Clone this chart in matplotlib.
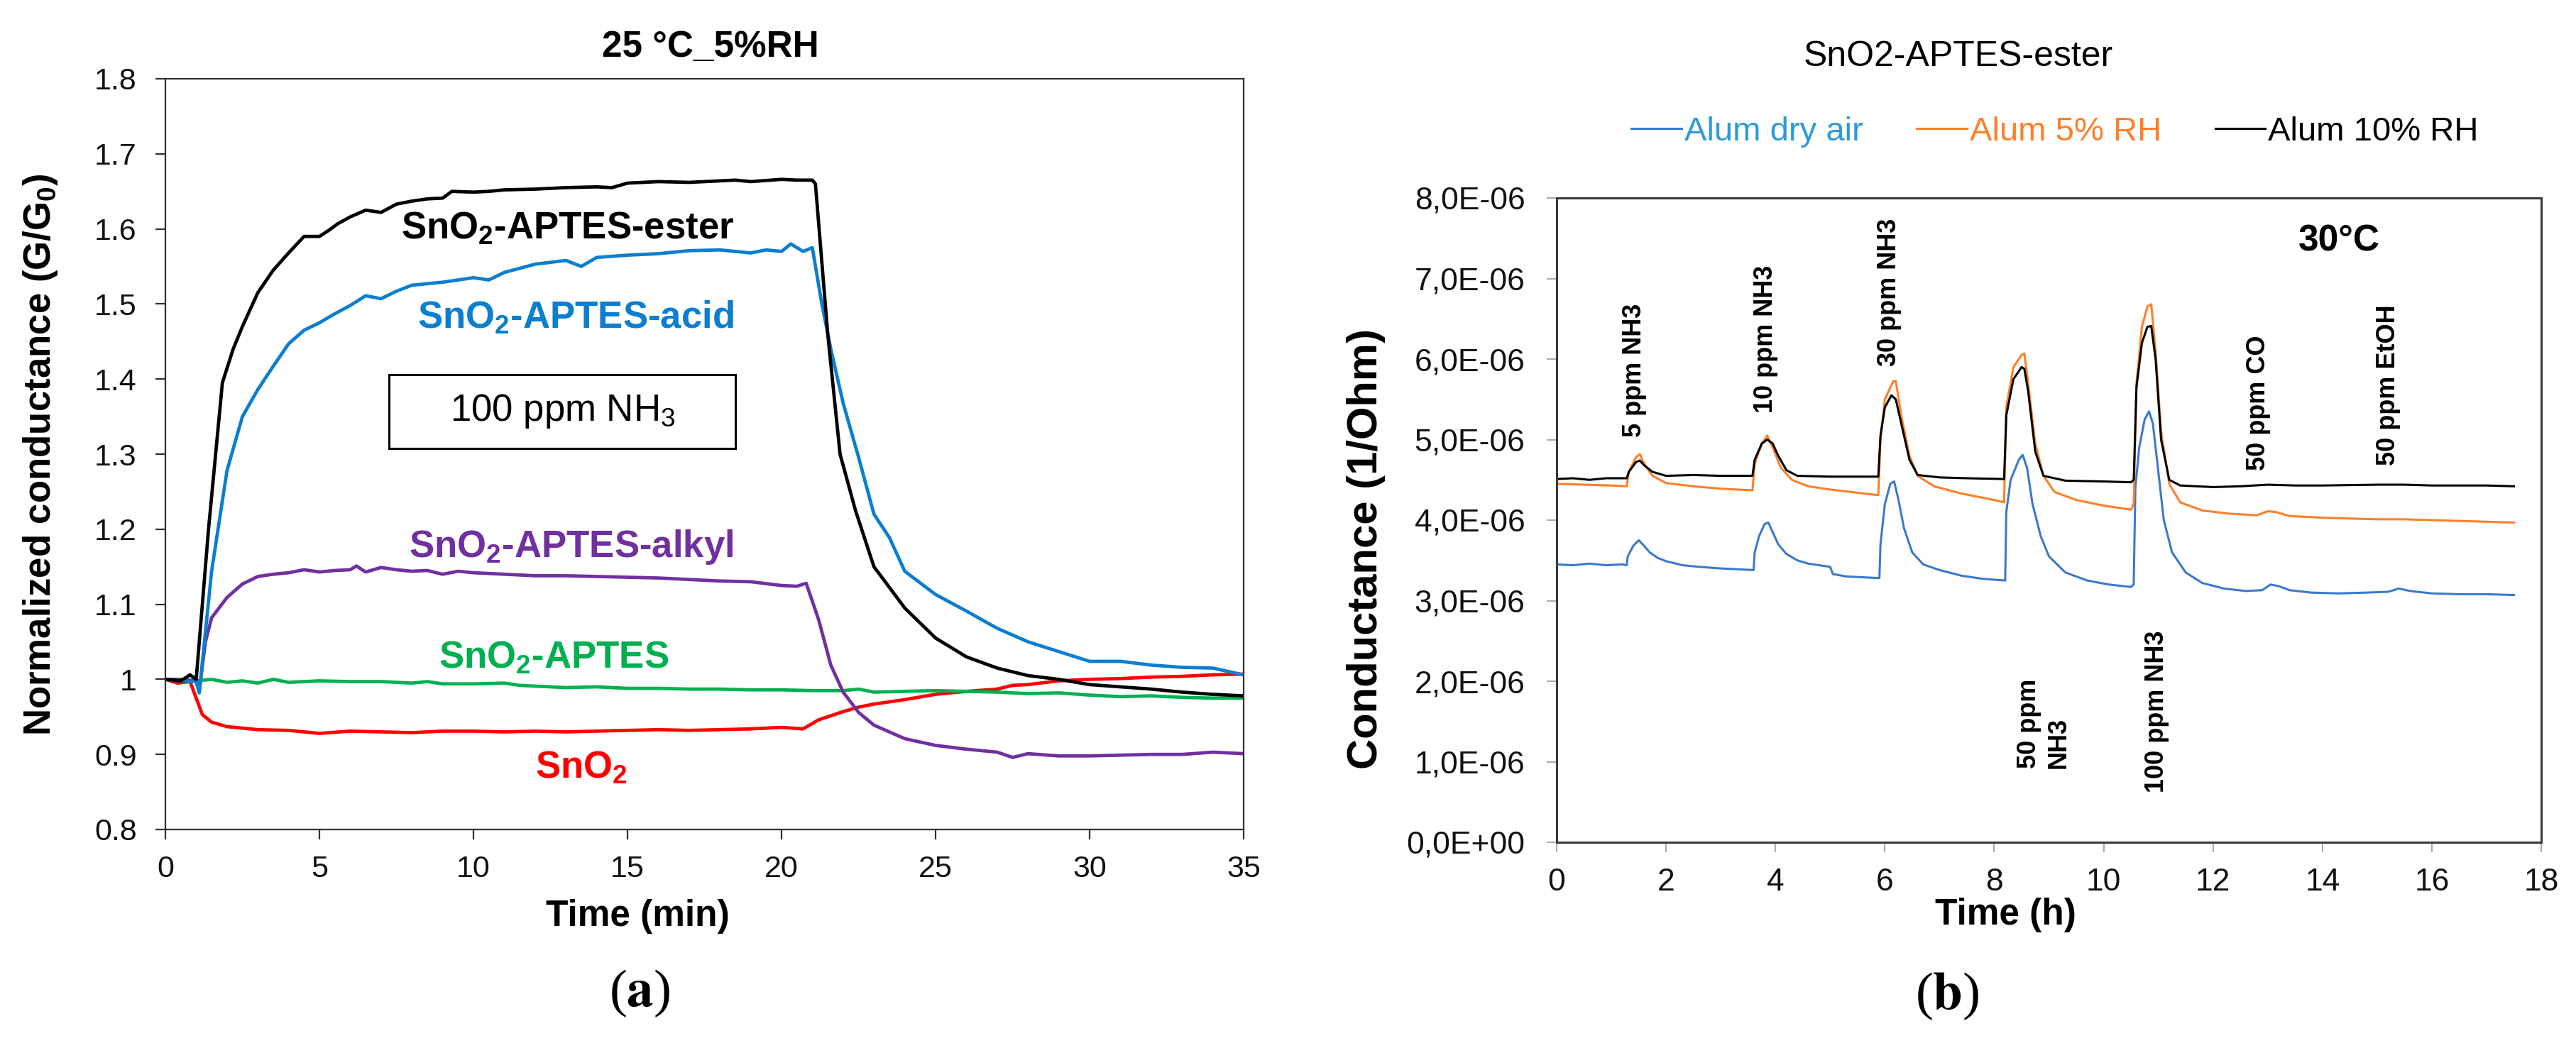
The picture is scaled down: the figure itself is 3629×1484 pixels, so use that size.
import matplotlib
matplotlib.use('Agg')
import matplotlib.pyplot as plt
from matplotlib.patches import Rectangle
from matplotlib.lines import Line2D
from matplotlib import font_manager

# ---------------- data: panel (a) ----------------
ester_t = [0, 0.5, 0.8, 1.0, 1.4, 1.85, 2.2, 2.5, 3, 3.5, 4, 4.5, 5, 5.3, 5.6, 6, 6.5, 7, 7.5, 8, 8.5, 9,
           9.3, 10, 10.5, 11, 12, 13, 14, 14.5, 15, 16, 17, 18, 18.5, 19, 20, 20.5, 21, 21.1, 21.5, 21.9,
           22.4, 23, 24, 25, 26, 27, 28, 29, 30, 31, 32, 33, 34, 35]
ester_g = [1.0, 0.998, 1.006, 1.0, 1.2, 1.395, 1.44, 1.47, 1.515, 1.545, 1.568, 1.59, 1.59, 1.598, 1.607,
           1.616, 1.625, 1.622, 1.633, 1.637, 1.64, 1.641, 1.65, 1.649, 1.65, 1.652, 1.653, 1.655, 1.656,
           1.655, 1.661, 1.663, 1.662, 1.664, 1.665, 1.663, 1.666, 1.665, 1.665, 1.66, 1.46, 1.30, 1.225,
           1.15, 1.095, 1.055, 1.03, 1.015, 1.005, 1.0, 0.993, 0.99, 0.987, 0.983, 0.98, 0.978]

acid_t = [0, 0.5, 1.0, 1.1, 1.5, 2, 2.5, 3, 3.5, 4, 4.5, 5, 5.5, 6, 6.5, 7, 7.5, 8, 9, 10, 10.5, 11, 12,
          13, 13.5, 14, 15, 16, 17, 18, 19, 19.5, 20, 20.3, 20.7, 21, 21.3, 21.6, 22, 22.5, 23, 23.5, 24,
          25, 26, 27, 28, 29, 30, 31, 32, 33, 34, 35]
acid_g = [1.0, 0.998, 0.997, 0.982, 1.144, 1.278, 1.35, 1.386, 1.417, 1.447, 1.465, 1.475, 1.487, 1.498,
          1.511, 1.507, 1.517, 1.525, 1.529, 1.535, 1.532, 1.542, 1.553, 1.558, 1.55, 1.562, 1.565, 1.567,
          1.571, 1.572, 1.568, 1.572, 1.57, 1.58, 1.57, 1.575, 1.502, 1.44, 1.368, 1.296, 1.22, 1.189,
          1.144, 1.113, 1.091, 1.068, 1.05, 1.037, 1.024, 1.024, 1.019, 1.016, 1.015, 1.006]

alkyl_t = [0, 0.5, 1.0, 1.1, 1.3, 1.5, 2, 2.5, 3, 3.5, 4, 4.5, 5, 5.5, 6, 6.2, 6.5, 7, 7.5, 8, 8.5, 9,
           9.5, 10, 11, 12, 13, 14, 15, 16, 17, 18, 19, 20, 20.5, 20.8, 21.2, 21.6, 22, 22.5, 23, 24, 25,
           26, 27, 27.5, 28, 29, 30, 31, 32, 33, 34, 35]
alkyl_g = [1.0, 1.0, 0.998, 0.985, 1.05, 1.082, 1.109, 1.127, 1.137, 1.14, 1.142, 1.146, 1.143, 1.145,
           1.146, 1.151, 1.143, 1.149, 1.146, 1.144, 1.145, 1.14, 1.144, 1.142, 1.14, 1.138, 1.138, 1.137,
           1.136, 1.135, 1.133, 1.131, 1.13, 1.125, 1.124, 1.128, 1.08, 1.019, 0.983, 0.956, 0.939, 0.921,
           0.912, 0.907, 0.903, 0.896, 0.901, 0.898, 0.898, 0.899, 0.9, 0.9, 0.903, 0.901]

aptes_t = [0, 1, 1.5, 2, 2.5, 3, 3.5, 4, 4.5, 5, 6, 7, 8, 8.5, 9, 10, 11, 11.5, 12, 13, 14, 15, 16, 17,
           18, 19, 20, 21, 22, 22.5, 23, 24, 25, 26, 27, 28, 29, 30, 31, 32, 33, 34, 35]
aptes_g = [1.0, 0.998, 1.0, 0.996, 0.998, 0.995, 1.0, 0.996, 0.997, 0.998, 0.997, 0.997, 0.995, 0.997,
           0.994, 0.994, 0.995, 0.992, 0.991, 0.989, 0.99, 0.988, 0.988, 0.987, 0.987, 0.986, 0.986,
           0.985, 0.985, 0.987, 0.983, 0.984, 0.985, 0.984, 0.983, 0.981, 0.982, 0.979, 0.977, 0.978,
           0.976, 0.975, 0.975]

sno2_t = [0, 0.4, 0.8, 1.0, 1.2, 1.5, 2, 3, 4, 4.5, 5, 6, 7, 8, 9, 10, 11, 12, 13, 14, 15, 16, 17, 18,
          19, 20, 20.7, 21.2, 22, 22.5, 23, 24, 25, 26, 27, 27.5, 28, 29, 30, 31, 32, 33, 34, 35]
sno2_g = [1.0, 0.995, 0.997, 0.975, 0.953, 0.943, 0.937, 0.933, 0.932, 0.93, 0.928, 0.931, 0.93, 0.929,
          0.931, 0.931, 0.93, 0.931, 0.93, 0.931, 0.932, 0.933, 0.932, 0.933, 0.934, 0.936, 0.934, 0.946,
          0.957, 0.963, 0.967, 0.973, 0.98, 0.984, 0.987, 0.992, 0.993, 0.998, 1.0, 1.001, 1.003, 1.004,
          1.006, 1.007]

a_xticks = [0, 5, 10, 15, 20, 25, 30, 35]
a_yticks = [0.8, 0.9, 1.0, 1.1, 1.2, 1.3, 1.4, 1.5, 1.6, 1.7, 1.8]
a_yticklabels = ['0.8', '0.9', '1', '1.1', '1.2', '1.3', '1.4', '1.5', '1.6', '1.7', '1.8']

# ---------------- data: panel (b)  (conductance in 1e-6 1/Ohm) ----------------
dry_t = [0, 0.3, 0.6, 0.9, 1.2, 1.28, 1.3, 1.4, 1.5, 1.6, 1.7, 1.85, 2.0, 2.3, 2.6, 3.0, 3.3, 3.6, 3.62,
         3.7, 3.8, 3.87, 3.95, 4.05, 4.2, 4.4, 4.6, 4.8, 5.0, 5.05, 5.3, 5.6, 5.9, 5.92, 6.0, 6.1, 6.17,
         6.25, 6.35, 6.5, 6.7, 7.0, 7.4, 7.8, 8.2, 8.22, 8.3, 8.45, 8.52, 8.6, 8.7, 8.85, 9.0, 9.3, 9.7,
         10.1, 10.5, 10.55, 10.58, 10.65, 10.75, 10.83, 10.9, 11.0, 11.1, 11.25, 11.5, 11.8, 12.2, 12.6,
         12.9, 13.05, 13.2, 13.4, 13.8, 14.3, 14.8, 15.2, 15.4, 15.6, 16.0, 16.5, 17.0, 17.5]
dry_g = [3.45, 3.44, 3.46, 3.44, 3.45, 3.44, 3.55, 3.68, 3.75, 3.68, 3.6, 3.53, 3.49, 3.44, 3.42, 3.40,
         3.39, 3.38, 3.6, 3.8, 3.95, 3.97, 3.85, 3.7, 3.58, 3.5, 3.46, 3.44, 3.42, 3.33, 3.3, 3.29, 3.28,
         3.7, 4.2, 4.45, 4.48, 4.25, 3.9, 3.6, 3.45, 3.38, 3.31, 3.27, 3.25, 4.1, 4.5, 4.75, 4.81, 4.65,
         4.2, 3.8, 3.55, 3.35, 3.25, 3.2, 3.17, 3.2, 4.4, 4.9, 5.25, 5.35, 5.2, 4.6, 4.0, 3.6, 3.35, 3.22,
         3.15, 3.12, 3.13, 3.2, 3.18, 3.13, 3.1, 3.09, 3.1, 3.11, 3.15, 3.12, 3.09, 3.08, 3.08, 3.07]

rh5_t = [0, 0.5, 1.0, 1.28, 1.32, 1.45, 1.52, 1.6, 1.75, 2.0, 2.5, 3.0, 3.58, 3.62, 3.75, 3.85, 3.95, 4.1,
         4.3, 4.6, 5.0, 5.5, 5.88, 5.92, 6.0, 6.15, 6.2, 6.3, 6.45, 6.6, 6.9, 7.4, 8.0, 8.18, 8.22, 8.35,
         8.5, 8.55, 8.62, 8.75, 8.9, 9.1, 9.5, 10.0, 10.5, 10.55, 10.6, 10.7, 10.8, 10.87, 10.95, 11.05,
         11.2, 11.4, 11.8, 12.3, 12.8, 13.0, 13.15, 13.4, 14.0, 14.5, 15.0, 15.5, 16.0, 16.5, 17.0, 17.5]
rh5_g = [4.45, 4.44, 4.43, 4.42, 4.6, 4.78, 4.82, 4.7, 4.55, 4.46, 4.42, 4.39, 4.37, 4.7, 4.95, 5.05,
         4.9, 4.65, 4.5, 4.42, 4.38, 4.34, 4.31, 5.0, 5.5, 5.72, 5.73, 5.3, 4.8, 4.55, 4.42, 4.33, 4.25,
         4.22, 5.4, 5.9, 6.05, 6.07, 5.7, 4.95, 4.55, 4.35, 4.25, 4.18, 4.13, 4.2, 5.7, 6.4, 6.65, 6.68,
         6.1, 5.1, 4.45, 4.22, 4.12, 4.08, 4.06, 4.11, 4.1, 4.05, 4.03, 4.02, 4.01, 4.01, 4.0, 3.99, 3.98,
         3.97]

rh10_t = [0, 0.3, 0.6, 0.9, 1.28, 1.32, 1.45, 1.52, 1.6, 1.75, 2.0, 2.5, 3.0, 3.58, 3.62, 3.75, 3.85,
          3.95, 4.05, 4.2, 4.4, 5.0, 5.5, 5.88, 5.92, 6.0, 6.12, 6.2, 6.3, 6.45, 6.6, 7.0, 7.5, 8.18, 8.22,
          8.35, 8.5, 8.55, 8.62, 8.75, 8.9, 9.3, 10.0, 10.5, 10.55, 10.6, 10.7, 10.8, 10.87, 10.95, 11.05,
          11.2, 11.4, 12.0, 12.5, 13.0, 13.5, 14.0, 15.0, 15.5, 16.0, 17.0, 17.5]
rh10_g = [4.51, 4.52, 4.50, 4.52, 4.52, 4.6, 4.72, 4.74, 4.68, 4.6, 4.55, 4.56, 4.55, 4.55, 4.75, 4.95,
          5.0, 4.95, 4.8, 4.62, 4.55, 4.54, 4.54, 4.54, 5.05, 5.4, 5.55, 5.5, 5.2, 4.75, 4.56, 4.53, 4.52,
          4.51, 5.3, 5.75, 5.9, 5.88, 5.6, 4.85, 4.55, 4.49, 4.48, 4.47, 4.5, 5.65, 6.2, 6.4, 6.41, 6.0,
          5.0, 4.5, 4.43, 4.41, 4.42, 4.44, 4.43, 4.43, 4.44, 4.44, 4.43, 4.43, 4.42]

b_xticks = [0, 2, 4, 6, 8, 10, 12, 14, 16, 18]
b_yticks = [0, 1e-6, 2e-6, 3e-6, 4e-6, 5e-6, 6e-6, 7e-6, 8e-6]
b_yticklabels = ['0,0E+00', '1,0E-06', '2,0E-06', '3,0E-06', '4,0E-06', '5,0E-06', '6,0E-06',
                 '7,0E-06', '8,0E-06']

# gas-pulse annotations: (label, x [h], y [1/Ohm], vertical anchor)
b_notes = [('5 ppm NH3', 1.42, 5.03e-6, 'bottom'),
           ('10 ppm NH3', 3.82, 5.33e-6, 'bottom'),
           ('30 ppm NH3', 6.08, 5.91e-6, 'bottom'),
           ('50 ppm\nNH3', 8.91, 0.92e-6, 'bottom'),
           ('100 ppm NH3', 10.97, 0.62e-6, 'bottom'),
           ('50 ppm CO', 12.83, 4.62e-6, 'bottom'),
           ('50 ppm EtOH', 15.2, 4.68e-6, 'bottom')]

# ---------------- styling ----------------
names = {f.name for f in font_manager.fontManager.ttflist}
SANS = 'Liberation Sans'
NARROW = 'Liberation Sans Narrow' if 'Liberation Sans Narrow' in names else 'Liberation Sans'

plt.rcParams['font.family'] = [SANS, 'DejaVu Sans']
plt.rcParams['mathtext.fontset'] = 'custom'
plt.rcParams['mathtext.rm'] = SANS
plt.rcParams['mathtext.it'] = SANS + ':italic'
plt.rcParams['mathtext.bf'] = SANS + ':bold'

C_ESTER, C_ACID, C_ALKYL, C_APTES, C_SNO2 = '#000000', '#0A7ECF', '#7030A0', '#00B050', '#FF0000'
C_DRY_LINE, C_DRY_TXT, C_RH5, C_RH10 = '#3B79CC', '#2E9AD8', '#FF7F2A', '#000000'

W, H = 3630, 1484
fig = plt.figure(figsize=(W / 100, H / 100), dpi=100)

# ================= panel (a) =================
ax1 = fig.add_axes([233 / W, 1 - 1169 / H, (1752 - 233) / W, (1169 - 111) / H])
lw_a = 3.4
ax1.plot(sno2_t, sno2_g, color=C_SNO2, lw=lw_a)
ax1.plot(aptes_t, aptes_g, color=C_APTES, lw=lw_a)
ax1.plot(alkyl_t, alkyl_g, color=C_ALKYL, lw=lw_a)
ax1.plot(acid_t, acid_g, color=C_ACID, lw=lw_a)
ax1.plot(ester_t, ester_g, color=C_ESTER, lw=lw_a)
ax1.set_xlim(0, 35)
ax1.set_ylim(0.8, 1.8)
ax1.set_xticks(a_xticks)
ax1.set_yticks(a_yticks)
ax1.set_yticklabels(a_yticklabels)
for sp in ax1.spines.values():
    sp.set_linewidth(1.6)
    sp.set_color('#303030')
ax1.tick_params(axis='both', direction='out', length=10, width=1.6, color='#303030',
                labelsize=31, labelcolor='#111111')
ax1.tick_params(axis='y', pad=19)
ax1.tick_params(axis='x', pad=16)

fs_lab = 38
ax1.text(18.45, 1.60, r'SnO$_\mathbf{2}$-APTES-ester', color=C_ESTER, fontsize=fs_lab,
         fontweight='bold', ha='right', va='center')
ax1.text(18.45, 1.482, r'SnO$_\mathbf{2}$-APTES-acid', color=C_ACID, fontsize=fs_lab,
         fontweight='bold', ha='right', va='center')
ax1.text(18.45, 1.176, r'SnO$_\mathbf{2}$-APTES-alkyl', color=C_ALKYL, fontsize=fs_lab,
         fontweight='bold', ha='right', va='center')
ax1.text(12.6, 1.028, r'SnO$_\mathbf{2}$-APTES', color=C_APTES, fontsize=fs_lab,
         fontweight='bold', ha='center', va='center')
ax1.text(13.5, 0.882, r'SnO$_\mathbf{2}$', color=C_SNO2, fontsize=fs_lab,
         fontweight='bold', ha='center', va='center')
ax1.add_patch(Rectangle((7.25, 1.308), 18.5 - 7.25, 1.406 - 1.308, fill=False,
                        edgecolor='#000000', lw=2.2))
ax1.text(12.9, 1.357, r'100 ppm NH$_3$', fontsize=38, ha='center', va='center', color='#000000')

fig.text(1001 / W, 1 - 66 / H, '25 °C_5%RH', fontsize=37, fontweight='bold', ha='center', va='center')
fig.text(57 / W, 1 - 641 / H, r'Normalized conductance (G/G$_\mathbf{0}$)', fontsize=38,
         fontweight='bold', rotation=90, ha='center', va='center')
fig.text(898 / W, 1 - 1291 / H, 'Time (min)', fontsize=37, fontweight='bold', ha='center', va='center')

# ================= panel (b) =================
ax2 = fig.add_axes([2193 / W, 1 - 1187 / H, (3580 - 2193) / W, (1187 - 279) / H])
lw_b = 2.2
l_dry, = ax2.plot(dry_t, [v * 1e-6 for v in dry_g], color=C_DRY_LINE, lw=lw_b, label='Alum dry air')
l_rh5, = ax2.plot(rh5_t, [v * 1e-6 for v in rh5_g], color=C_RH5, lw=lw_b, label='Alum 5% RH')
l_rh10, = ax2.plot(rh10_t, [v * 1e-6 for v in rh10_g], color=C_RH10, lw=lw_b, label='Alum 10% RH')
ax2.set_xlim(0, 18)
ax2.set_ylim(0, 8e-6)
ax2.set_xticks(b_xticks)
ax2.set_yticks(b_yticks)
ax2.set_yticklabels(b_yticklabels)
for sp in ax2.spines.values():
    sp.set_linewidth(2.2)
    sp.set_color('#3A3A3A')
ax2.tick_params(axis='both', direction='out', length=10, width=1.4, color='#A8A8A8',
                labelsize=32, labelcolor='#111111')
ax2.tick_params(axis='y', pad=22)
ax2.tick_params(axis='x', pad=16)

for txt, x, y, va in b_notes:
    ax2.text(x, y, txt, rotation=90, fontsize=26, fontweight='bold', family=[NARROW, SANS],
             ha='center', va=va, multialignment='left', linespacing=1.25)
ax2.text(14.3, 7.46e-6, '30°C', fontsize=37, fontweight='bold', family=[NARROW, SANS],
         ha='center', va='center')

fig.text(2759 / W, 1 - 80 / H, 'SnO2-APTES-ester', fontsize=36, ha='center', va='center')
fig.text(1925 / W, 1 - 774 / H, 'Conductance (1/Ohm)', fontsize=43, fontweight='bold',
         rotation=90, ha='center', va='center')
fig.text(2825 / W, 1 - 1290 / H, 'Time (h)', fontsize=37, fontweight='bold', ha='center', va='center')

leg = fig.legend(handles=[l_dry, l_rh5, l_rh10], loc='center', bbox_to_anchor=(2895 / W, 1 - 186 / H),
                 ncol=3, frameon=False, fontsize=34, handlelength=1.5, handletextpad=0.08,
                 columnspacing=1.6, borderpad=0)
for t, c in zip(leg.get_texts(), [C_DRY_TXT, C_RH5, C_RH10]):
    t.set_color(c)

# ================= panel labels =================
fig.text(901 / W, 1 - 1400 / H, r'($\mathbf{a}$)', fontsize=54, family=['Liberation Serif', 'DejaVu Serif'],
         math_fontfamily='stix', ha='center', va='center')
fig.text(2743 / W, 1 - 1404 / H, r'($\mathbf{b}$)', fontsize=54, family=['Liberation Serif', 'DejaVu Serif'],
         math_fontfamily='stix', ha='center', va='center')

fig.savefig('out.png', dpi=100, facecolor='white')
